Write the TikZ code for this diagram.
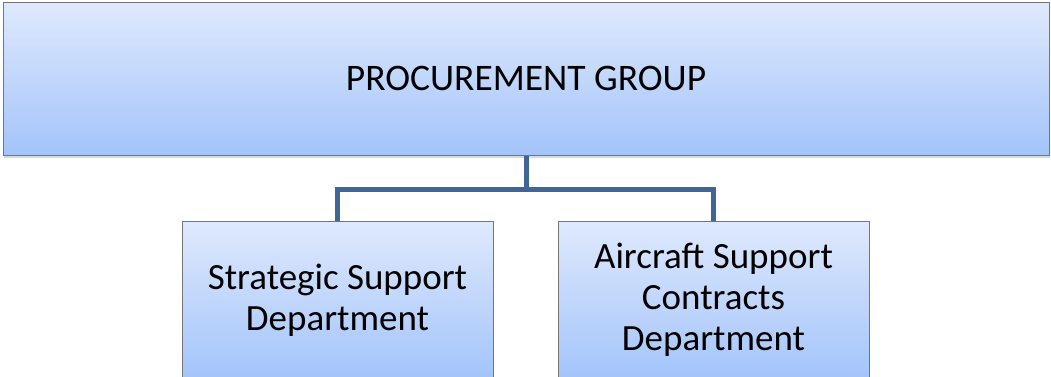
\documentclass[tikz,border=0pt]{standalone}
\usepackage{fontspec}
\setmainfont{Carlito}
\usetikzlibrary{shadows}

\definecolor{boxtop}{RGB}{223,233,253}
\definecolor{boxbottom}{RGB}{163,196,250}
\definecolor{boxline}{RGB}{118,118,118}
\definecolor{linkblue}{RGB}{64,102,150}

\begin{document}
\begin{tikzpicture}[x=1pt,y=-1pt,
		unit/.style={draw=boxline, line width=1pt, top color=boxtop, bottom color=boxbottom,
			drop shadow={shadow xshift=1pt, shadow yshift=-3pt, opacity=0.3},
			align=center, inner sep=0pt, text=black},
		dept/.style={unit, minimum width=311pt, minimum height=158pt, font=\fontsize{37}{41}\selectfont},
		link/.style={draw=linkblue, line width=5pt}]
		\useasboundingbox (0,0) rectangle (1051,376);
		\clip (0,0) rectangle (1051,376);

		\node[unit, minimum width=1046pt, minimum height=153pt, font=\fontsize{37.5}{41}\selectfont] (grp) at (526,78.5) {PROCUREMENT GROUP};
		\node[dept] (strat) at (337.5,300) {Strategic Support\\Department};
		\node[dept] (air) at (713.5,300) {Aircraft Support\\Contracts\\Department};

		\draw[link] (grp.south) -- ++(0,34) coordinate (hub);
		\foreach \d in {strat, air}
			\draw[link] (hub) -| (\d.north);
	\end{tikzpicture}
\end{document}
